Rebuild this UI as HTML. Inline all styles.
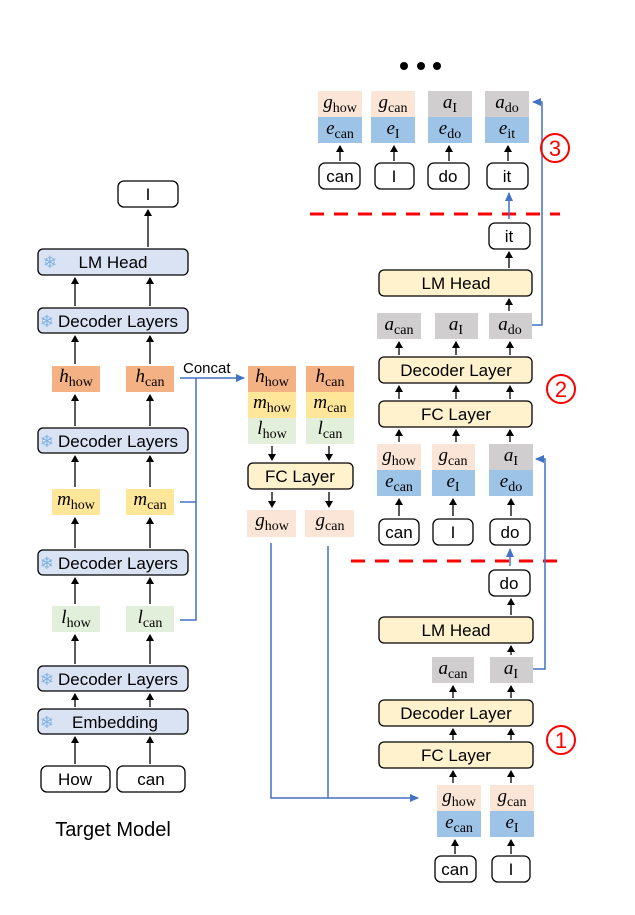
<!DOCTYPE html>
<html><head><meta charset="utf-8"><style>
html,body{margin:0;padding:0;background:#fff;}
svg{display:block;}
.s{font-family:"Liberation Sans",sans-serif;}
.m{font-family:"Liberation Serif",serif;font-size:19px;}
.m .v{font-style:italic;}
.m .b{font-size:14px;}
</style></head><body>
<svg width="635" height="915" viewBox="0 0 635 915" xmlns="http://www.w3.org/2000/svg">
<defs>
<marker id="ah" markerWidth="8" markerHeight="8" refX="6" refY="4" orient="auto" markerUnits="userSpaceOnUse"><path d="M0,0 L7,4 L0,8 z" fill="#000"/></marker>
<marker id="bh" markerWidth="10" markerHeight="10" refX="8" refY="5" orient="auto" markerUnits="userSpaceOnUse"><path d="M0,1 L9,5 L0,9 z" fill="#4472c4"/></marker>
</defs>

<!-- ===== LEFT: target model ===== -->
<g stroke="#000" stroke-width="1.3" marker-end="url(#ah)">
<line x1="148" y1="247" x2="148" y2="210"/>
<line x1="75" y1="306" x2="75" y2="278"/><line x1="150" y1="306" x2="150" y2="278"/>
<line x1="75" y1="364" x2="75" y2="336"/><line x1="150" y1="364" x2="150" y2="336"/>
<line x1="75" y1="426" x2="75" y2="395"/><line x1="150" y1="426" x2="150" y2="395"/>
<line x1="75" y1="487" x2="75" y2="456"/><line x1="150" y1="487" x2="150" y2="456"/>
<line x1="75" y1="548" x2="75" y2="518"/><line x1="150" y1="548" x2="150" y2="518"/>
<line x1="75" y1="604" x2="75" y2="578"/><line x1="150" y1="604" x2="150" y2="578"/>
<line x1="75" y1="664" x2="75" y2="635"/><line x1="150" y1="664" x2="150" y2="635"/>
<line x1="75" y1="707" x2="75" y2="694"/><line x1="150" y1="707" x2="150" y2="694"/>
<line x1="75" y1="764" x2="75" y2="737"/><line x1="150" y1="764" x2="150" y2="737"/>
</g>
<g stroke="#000" stroke-width="1.3">
<rect x="118" y="181" width="60" height="26" rx="6" fill="#fff"/>
<rect x="38" y="249" width="150" height="26" rx="5" fill="#dae3f3"/>
<rect x="38" y="308" width="150" height="25" rx="5" fill="#dae3f3"/>
<rect x="38" y="428" width="150" height="25" rx="5" fill="#dae3f3"/>
<rect x="38" y="550" width="150" height="25" rx="5" fill="#dae3f3"/>
<rect x="38" y="666" width="150" height="25" rx="5" fill="#dae3f3"/>
<rect x="38" y="709" width="150" height="25" rx="5" fill="#dae3f3"/>
<rect x="41" y="766" width="69" height="26" rx="6" fill="#fff"/>
<rect x="117" y="766" width="68" height="26" rx="6" fill="#fff"/>
</g>
<g class="s" font-size="17" text-anchor="middle" fill="#000">
<text x="148" y="200">I</text>
<text x="113" y="268">LM Head</text>
<text x="118" y="327">Decoder Layers</text>
<text x="118" y="447">Decoder Layers</text>
<text x="118" y="569">Decoder Layers</text>
<text x="118" y="685">Decoder Layers</text>
<text x="115" y="728">Embedding</text>
<text x="75" y="785">How</text>
<text x="151" y="785">can</text>
<text x="113" y="836" font-size="20">Target Model</text>
</g>
<g font-size="17" fill="#7fb2e0" text-anchor="middle" font-family="DejaVu Sans">
<text x="50" y="268">❄</text><text x="47" y="327">❄</text><text x="47" y="447">❄</text><text x="47" y="569">❄</text><text x="47" y="685">❄</text><text x="47" y="728">❄</text>
</g>
<rect x="52" y="366" width="48" height="26" fill="#f4b183"/><rect x="126" y="366" width="48" height="26" fill="#f4b183"/>
<rect x="52" y="489" width="48" height="26" fill="#ffe699"/><rect x="126" y="489" width="48" height="26" fill="#ffe699"/>
<rect x="52" y="606" width="48" height="26" fill="#e2efda"/><rect x="126" y="606" width="48" height="26" fill="#e2efda"/>
<g class="m" text-anchor="middle">
<text x="76" y="382"><tspan class="v">h</tspan><tspan class="b" dy="4">how</tspan></text>
<text x="150" y="382"><tspan class="v">h</tspan><tspan class="b" dy="4">can</tspan></text>
<text x="76" y="505"><tspan class="v">m</tspan><tspan class="b" dy="4">how</tspan></text>
<text x="150" y="505"><tspan class="v">m</tspan><tspan class="b" dy="4">can</tspan></text>
<text x="76" y="623"><tspan class="v">l</tspan><tspan class="b" dy="4">how</tspan></text>
<text x="150" y="623"><tspan class="v">l</tspan><tspan class="b" dy="4">can</tspan></text>
</g>
<g stroke="#4472c4" stroke-width="1.5" fill="none">
<polyline points="180,620 196,620 196,378"/>
<line x1="180" y1="502" x2="196" y2="502"/>
<line x1="180" y1="378" x2="244" y2="378" marker-end="url(#bh)"/>
</g>
<text class="s" x="183" y="373" font-size="15">Concat</text>

<!-- ===== MIDDLE ===== -->
<rect x="248" y="366" width="48" height="26" fill="#f4b183"/><rect x="306" y="366" width="48" height="26" fill="#f4b183"/>
<rect x="248" y="392" width="48" height="26" fill="#ffe699"/><rect x="306" y="392" width="48" height="26" fill="#ffe699"/>
<rect x="248" y="418" width="48" height="26" fill="#e2efda"/><rect x="306" y="418" width="48" height="26" fill="#e2efda"/>
<rect x="247" y="510" width="49" height="27" fill="#fbe5d6"/><rect x="305" y="510" width="49" height="27" fill="#fbe5d6"/>
<g class="m" text-anchor="middle">
<text x="272" y="382"><tspan class="v">h</tspan><tspan class="b" dy="4">how</tspan></text>
<text x="330" y="382"><tspan class="v">h</tspan><tspan class="b" dy="4">can</tspan></text>
<text x="272" y="408"><tspan class="v">m</tspan><tspan class="b" dy="4">how</tspan></text>
<text x="330" y="408"><tspan class="v">m</tspan><tspan class="b" dy="4">can</tspan></text>
<text x="272" y="434"><tspan class="v">l</tspan><tspan class="b" dy="4">how</tspan></text>
<text x="330" y="434"><tspan class="v">l</tspan><tspan class="b" dy="4">can</tspan></text>
<text x="272" y="526"><tspan class="v">g</tspan><tspan class="b" dy="4">how</tspan></text>
<text x="330" y="526"><tspan class="v">g</tspan><tspan class="b" dy="4">can</tspan></text>
</g>
<g stroke="#000" stroke-width="1.3" marker-end="url(#ah)">
<line x1="272" y1="446" x2="272" y2="460"/><line x1="329" y1="446" x2="329" y2="460"/>
<line x1="272" y1="492" x2="272" y2="507"/><line x1="329" y1="492" x2="329" y2="507"/>
</g>
<rect x="248" y="463" width="105" height="26" rx="5" fill="#fff2cc" stroke="#000" stroke-width="1.3"/>
<text class="s" x="300" y="482" font-size="17" text-anchor="middle">FC Layer</text>
<g stroke="#4472c4" stroke-width="1.5" fill="none">
<polyline points="271,543 271,798 418,798" marker-end="url(#bh)"/>
<line x1="328" y1="546" x2="328" y2="798"/>
</g>

<line x1="310" y1="214" x2="560" y2="214" stroke="#f00" stroke-width="3" stroke-dasharray="14,10"/>
<line x1="351" y1="561" x2="560" y2="561" stroke="#f00" stroke-width="3" stroke-dasharray="14,10"/>

<circle cx="404" cy="66" r="4"/><circle cx="421" cy="66" r="4"/><circle cx="437" cy="66" r="4"/>

<rect x="318" y="91" width="44" height="26" fill="#fbe5d6"/><rect x="371" y="91" width="44" height="26" fill="#fbe5d6"/>
<rect x="428" y="91" width="44" height="26" fill="#d0cece"/><rect x="485" y="91" width="44" height="26" fill="#d0cece"/>
<rect x="318" y="117" width="44" height="26" fill="#9dc3e6"/><rect x="371" y="117" width="44" height="26" fill="#9dc3e6"/>
<rect x="428" y="117" width="44" height="26" fill="#9dc3e6"/><rect x="485" y="117" width="44" height="26" fill="#9dc3e6"/>
<rect x="377" y="313" width="44" height="26" fill="#d0cece"/><rect x="435" y="313" width="43" height="26" fill="#d0cece"/><rect x="489" y="313" width="43" height="26" fill="#d0cece"/>
<rect x="377" y="444" width="44" height="26" fill="#fbe5d6"/><rect x="432" y="444" width="43" height="26" fill="#fbe5d6"/><rect x="489" y="444" width="44" height="26" fill="#d0cece"/>
<rect x="377" y="470" width="44" height="26" fill="#9dc3e6"/><rect x="432" y="470" width="43" height="26" fill="#9dc3e6"/><rect x="489" y="470" width="44" height="26" fill="#9dc3e6"/>
<rect x="432" y="657" width="42" height="26" fill="#d0cece"/><rect x="490" y="657" width="43" height="26" fill="#d0cece"/>
<rect x="437" y="785" width="44" height="26" fill="#fbe5d6"/><rect x="490" y="785" width="44" height="26" fill="#fbe5d6"/>
<rect x="437" y="811" width="44" height="26" fill="#9dc3e6"/><rect x="490" y="811" width="44" height="26" fill="#9dc3e6"/>

<g class="m" text-anchor="middle">
<text x="340" y="108"><tspan class="v">g</tspan><tspan class="b" dy="4">how</tspan></text>
<text x="393" y="108"><tspan class="v">g</tspan><tspan class="b" dy="4">can</tspan></text>
<text x="450" y="108"><tspan class="v">a</tspan><tspan class="b" dy="4">I</tspan></text>
<text x="507" y="108"><tspan class="v">a</tspan><tspan class="b" dy="4">do</tspan></text>
<text x="340" y="134"><tspan class="v">e</tspan><tspan class="b" dy="4">can</tspan></text>
<text x="393" y="134"><tspan class="v">e</tspan><tspan class="b" dy="4">I</tspan></text>
<text x="450" y="134"><tspan class="v">e</tspan><tspan class="b" dy="4">do</tspan></text>
<text x="507" y="134"><tspan class="v">e</tspan><tspan class="b" dy="4">it</tspan></text>

<text x="399" y="330"><tspan class="v">a</tspan><tspan class="b" dy="4">can</tspan></text>
<text x="456" y="330"><tspan class="v">a</tspan><tspan class="b" dy="4">I</tspan></text>
<text x="510" y="330"><tspan class="v">a</tspan><tspan class="b" dy="4">do</tspan></text>

<text x="399" y="461"><tspan class="v">g</tspan><tspan class="b" dy="4">how</tspan></text>
<text x="453" y="461"><tspan class="v">g</tspan><tspan class="b" dy="4">can</tspan></text>
<text x="511" y="461"><tspan class="v">a</tspan><tspan class="b" dy="4">I</tspan></text>
<text x="399" y="487"><tspan class="v">e</tspan><tspan class="b" dy="4">can</tspan></text>
<text x="453" y="487"><tspan class="v">e</tspan><tspan class="b" dy="4">I</tspan></text>
<text x="511" y="487"><tspan class="v">e</tspan><tspan class="b" dy="4">do</tspan></text>

<text x="453" y="674"><tspan class="v">a</tspan><tspan class="b" dy="4">can</tspan></text>
<text x="511" y="674"><tspan class="v">a</tspan><tspan class="b" dy="4">I</tspan></text>

<text x="459" y="802"><tspan class="v">g</tspan><tspan class="b" dy="4">how</tspan></text>
<text x="512" y="802"><tspan class="v">g</tspan><tspan class="b" dy="4">can</tspan></text>
<text x="459" y="828"><tspan class="v">e</tspan><tspan class="b" dy="4">can</tspan></text>
<text x="512" y="828"><tspan class="v">e</tspan><tspan class="b" dy="4">I</tspan></text>
</g>

<g stroke="#000" stroke-width="1.3" marker-end="url(#ah)">
<line x1="340" y1="161" x2="340" y2="146"/><line x1="394" y1="161" x2="394" y2="146"/><line x1="449" y1="161" x2="449" y2="146"/><line x1="508" y1="161" x2="508" y2="146"/>
<line x1="509" y1="268" x2="509" y2="252"/>
<line x1="399" y1="355" x2="399" y2="342"/><line x1="456" y1="355" x2="456" y2="342"/><line x1="510" y1="355" x2="510" y2="342"/>
<line x1="509" y1="311" x2="509" y2="299"/>
<line x1="399" y1="399" x2="399" y2="386"/><line x1="456" y1="399" x2="456" y2="386"/><line x1="510" y1="399" x2="510" y2="386"/>
<line x1="399" y1="442" x2="399" y2="430"/><line x1="456" y1="442" x2="456" y2="430"/><line x1="510" y1="442" x2="510" y2="430"/>
<line x1="399" y1="516" x2="399" y2="499"/><line x1="453" y1="516" x2="453" y2="499"/><line x1="511" y1="516" x2="511" y2="499"/>
<line x1="511" y1="615" x2="511" y2="599"/>
<line x1="511" y1="655" x2="511" y2="646"/>
<line x1="453" y1="698" x2="453" y2="686"/><line x1="511" y1="698" x2="511" y2="686"/>
<line x1="453" y1="740" x2="453" y2="729"/><line x1="511" y1="740" x2="511" y2="729"/>
<line x1="453" y1="783" x2="453" y2="771"/><line x1="511" y1="783" x2="511" y2="771"/>
<line x1="455" y1="854" x2="455" y2="840"/><line x1="511" y1="854" x2="511" y2="840"/>
</g>

<g stroke="#000" stroke-width="1.3">
<rect x="319" y="163" width="41" height="26" rx="6" fill="#fff"/>
<rect x="375" y="163" width="39" height="26" rx="6" fill="#fff"/>
<rect x="428" y="163" width="41" height="26" rx="6" fill="#fff"/>
<rect x="487" y="163" width="41" height="26" rx="6" fill="#fff"/>
<rect x="489" y="223" width="41" height="26" rx="6" fill="#fff"/>
<rect x="379" y="270" width="153" height="26" rx="5" fill="#fff2cc"/>
<rect x="379" y="357" width="153" height="26" rx="5" fill="#fff2cc"/>
<rect x="379" y="401" width="153" height="26" rx="5" fill="#fff2cc"/>
<rect x="379" y="519" width="40" height="26" rx="6" fill="#fff"/>
<rect x="433" y="519" width="40" height="26" rx="6" fill="#fff"/>
<rect x="490" y="519" width="40" height="26" rx="6" fill="#fff"/>
<rect x="489" y="570" width="41" height="26" rx="6" fill="#fff"/>
<rect x="379" y="617" width="154" height="26" rx="5" fill="#fff2cc"/>
<rect x="379" y="700" width="154" height="26" rx="5" fill="#fff2cc"/>
<rect x="379" y="742" width="154" height="26" rx="5" fill="#fff2cc"/>
<rect x="435" y="856" width="41" height="26" rx="6" fill="#fff"/>
<rect x="492" y="856" width="38" height="26" rx="6" fill="#fff"/>
</g>
<g class="s" font-size="17" text-anchor="middle">
<text x="340" y="182">can</text><text x="394" y="182">I</text><text x="448" y="182">do</text><text x="507" y="182">it</text>
<text x="509" y="242">it</text>
<text x="456" y="289">LM Head</text>
<text x="456" y="376">Decoder Layer</text>
<text x="456" y="420">FC Layer</text>
<text x="399" y="538">can</text><text x="453" y="538">I</text><text x="510" y="538">do</text>
<text x="509" y="589">do</text>
<text x="456" y="636">LM Head</text>
<text x="456" y="719">Decoder Layer</text>
<text x="456" y="761">FC Layer</text>
<text x="455" y="875">can</text><text x="511" y="875">I</text>
</g>

<g stroke="#4472c4" stroke-width="1.5" fill="none">
<polyline points="532,325 542,325 542,102 533,102" marker-end="url(#bh)"/>
<line x1="509" y1="219" x2="509" y2="193" marker-end="url(#bh)"/>
<polyline points="533,669 545,669 545,459 536,459" marker-end="url(#bh)"/>
<line x1="510" y1="566" x2="510" y2="549" marker-end="url(#bh)"/>
</g>

<g stroke="#f00" stroke-width="2" fill="none">
<circle cx="555" cy="148" r="14"/>
<circle cx="561" cy="389" r="14"/>
<circle cx="561" cy="740" r="14"/>
</g>
<g class="s" font-size="22" fill="#f00" text-anchor="middle">
<text x="555" y="156">3</text><text x="561" y="397">2</text><text x="561" y="748">1</text>
</g>
</svg>
</body></html>
